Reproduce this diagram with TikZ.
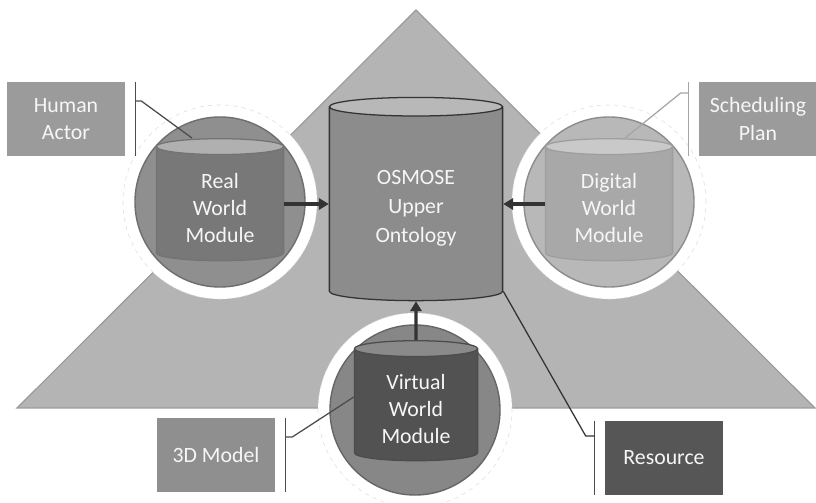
\documentclass[tikz,border=0pt]{standalone}
\usepackage{fontspec}
\setmainfont{Carlito}
\usepackage{tikz}
\usetikzlibrary{shapes.geometric, arrows.meta, positioning}
\definecolor{pyramid}{HTML}{B4B4B4}
\definecolor{pyramidedge}{HTML}{9A9A9A}
\definecolor{inkdark}{HTML}{333333}
\definecolor{textwhite}{HTML}{F6F6F6}
\definecolor{labelgray}{HTML}{9B9B9B}
\definecolor{labeldark}{HTML}{565656}
% lower the lines of a cylinder label a little, keeping its box
\newcommand{\cyllines}[2][0.15cm]{\raisebox{-#1}[\height][\depth]{%
  \begin{tabular}{@{}c@{}}#2\end{tabular}}}

\begin{document}
\begin{tikzpicture}[
  x=0.025cm, y=-0.025cm,
  font=\fontsize{15.5}{19.5}\selectfont,
  cyl/.style={cylinder, shape border rotate=90, aspect=0.23, draw, line width=0.9pt,
              cylinder uses custom fill, text=textwhite, align=center, inner sep=0pt},
  halo/.style={circle, fill=white, draw=black!13, dashed, minimum size=4.85cm},
  disc/.style={circle, line width=1pt, minimum size=4.25cm},
  lbl/.style={rectangle, fill=labelgray, text=textwhite, align=center,
              minimum width=2.95cm, minimum height=1.85cm},
  brk/.style={line width=1.1pt, color=black!70},
  lead/.style={line width=0.9pt, color=black!70},
  arrow/.style={-{Triangle[length=7pt, width=8pt]}, line width=2.2pt, color=inkdark},
]
\useasboundingbox (0,0) rectangle (816,503);

% pyramid in the background
\filldraw[fill=pyramid, draw=pyramidedge, line width=0.8pt]
  (416,10) -- (815,408) -- (17,408) -- cycle;

% upper ontology
\node[cyl, draw=inkdark, cylinder body fill=black!45, cylinder end fill=black!28,
      minimum width=4.33cm, minimum height=5.08cm, font=\fontsize{15.5}{20.5}\selectfont]
      (osmose) at (416,204) {\cyllines[0.1cm]{OSMOSE\\Upper\\Ontology}};

% the three world modules
\node[halo] (realhalo) at (220,202) {};
\node[disc, fill=black!44, draw=black!57] (realdisc) at (220,202) {};
\node[cyl, draw=black!55, cylinder body fill=black!53, cylinder end fill=black!31,
      minimum width=3.18cm, minimum height=3.05cm] (real) at (220,204)
      {\cyllines{Real\\World\\Module}};

\node[halo] (digitalhalo) at (609,202) {};
\node[disc, fill=black!28, draw=black!45] (digitaldisc) at (609,202) {};
\node[cyl, draw=black!38, cylinder body fill=black!34, cylinder end fill=black!21,
      minimum width=3.18cm, minimum height=3.05cm] (digital) at (609,204)
      {\cyllines{Digital\\World\\Module}};

\node[halo] (virtualhalo) at (415,410) {};
\node[disc, fill=black!47, draw=black!60] (virtualdisc) at (415,410) {};
\node[cyl, draw=black!70, cylinder body fill=black!68, cylinder end fill=black!46,
      minimum width=3.08cm, minimum height=3.0cm] (virtual) at (416,405)
      {\cyllines{Virtual\\World\\Module}};

\draw[arrow] (real.east) -- (osmose.west |- real.east);
\draw[arrow] (digital.west) -- (osmose.east |- digital.west);
\draw[arrow] (virtual.north) -- (osmose.south);

% labels with their brackets
\node[lbl] (human) at (66,119) {Human\\Actor};
\node[lbl] (plan) at (758,119) {Scheduling\\Plan};
\node[lbl, fill=black!44] (model) at (216,455) {3D Model};
\node[lbl, fill=labeldark] (resource) at (664,458) {Resource};

\draw[brk] ([xshift=0.25cm]human.north east) -- ([xshift=0.25cm]human.south east);
\draw[brk, black!35] ([xshift=-0.25cm]plan.north west) -- ([xshift=-0.25cm]plan.south west);
\draw[brk] ([xshift=0.25cm]model.north east) -- ([xshift=0.25cm]model.south east);
\draw[brk] ([xshift=-0.25cm]resource.north west) -- ([xshift=-0.25cm]resource.south west);

\coordinate (humanpin) at ([xshift=0.25cm, yshift=0.45cm]human.east);
\coordinate (planpin) at ([xshift=-0.25cm, yshift=0.65cm]plan.west);
\coordinate (modelpin) at ([xshift=0.25cm, yshift=0.45cm]model.east);
\coordinate (resourcepin) at ([xshift=-0.25cm, yshift=0.55cm]resource.west);

\draw[lead] (humanpin) -- ++(6,0) -- ([xshift=-0.7cm]real.north);
\draw[lead, black!35] (planpin) -- ++(-8,0) -- ([xshift=0.4cm]digital.north);
\draw[lead] (modelpin) -- ++(7,0) -- ([yshift=0.2cm]virtual.west);
\draw[lead, color=inkdark] (resourcepin) -- ++(-9,0) -- (osmose.south east);
\end{tikzpicture}
\end{document}
